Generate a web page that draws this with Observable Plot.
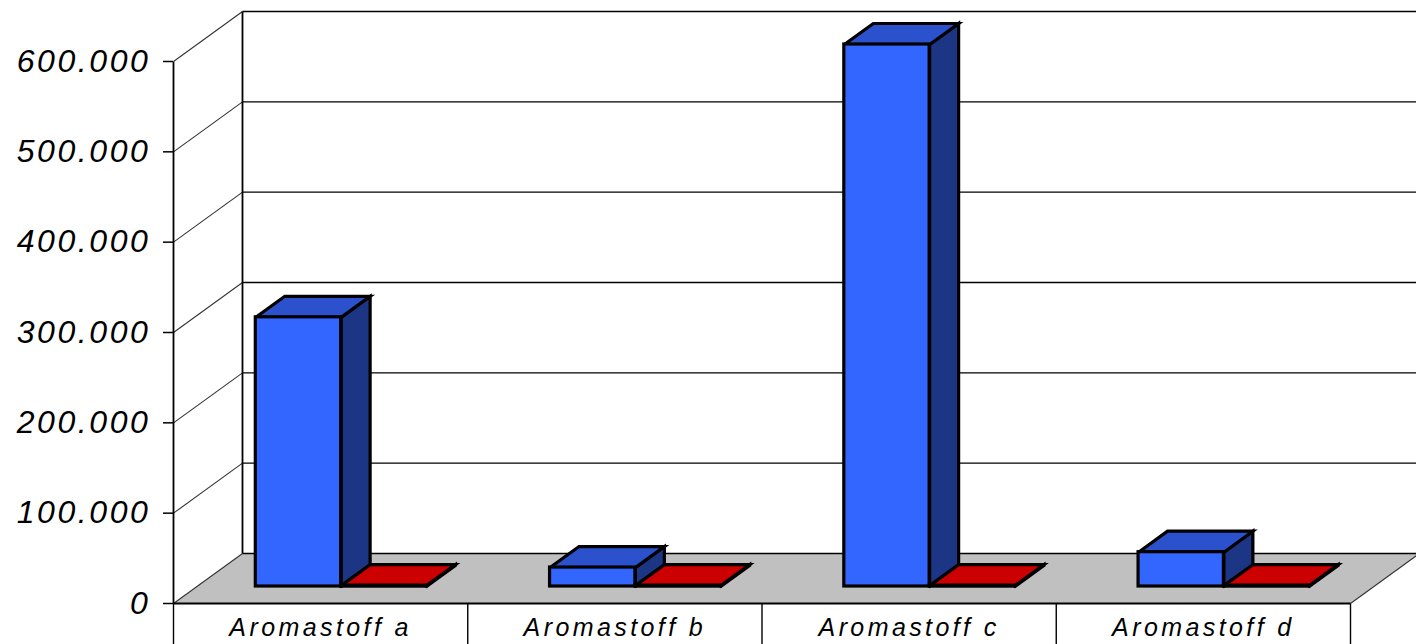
<!DOCTYPE html>
<html>
<head>
<meta charset="utf-8">
<script src="https://cdn.jsdelivr.net/npm/d3@7"></script>
<script src="https://cdn.jsdelivr.net/npm/@observablehq/plot@0.6"></script>
<style>
  html, body { margin: 0; padding: 0; background: #ffffff; }
  #chart svg { display: block; overflow: visible; }
  #chart g[aria-label="y-axis tick label"] text { letter-spacing: 2.6px; }
  #chart g[aria-label="x-axis tick label"] text { letter-spacing: 3.4px; }
</style>
</head>
<body>
<div id="chart"></div>
<script>
// ---- data ----
const categories = ["Aromastoff a", "Aromastoff b", "Aromastoff c", "Aromastoff d"];
const seriesBlue = [298000, 21000, 600000, 38000];
const seriesRed = [1000, 1000, 1000, 1000];
const yTicks = [0, 100000, 200000, 300000, 400000, 500000, 600000];

// ---- layout / style ----
const W = 1416, H = 644;
const mL = 173, mR = 66, mT = 61, mB = 41;
const yMax = 600000;
const pxPerX = (W - mL - mR) / categories.length;
const pxPerY = (H - mT - mB) / yMax;
const DEPTH_X = 69 / pxPerX;   // oblique projection of the full depth (data units)
const DEPTH_Y = 50 / pxPerY;
const BELOW = -41 / pxPerY;     // category dividers run to the bottom edge
const FRONT = 0.34, BACK = 0.76; // bar depth span
const GROUP_START = 0.2, BAR_W = 0.29;

const P = (x, y, d) => ({x: x + d * DEPTH_X, y: y + d * DEPTH_Y});

const palettes = [
  {front: "#3366ff", top: "#2b52cc", side: "#1c3585"},
  {front: "#e00000", top: "#cc0000", side: "#7a0000"}
];

const fmt = d => d3.format(",")(d).replace(/,/g, ".");

function barMarks(values, s) {
  const pal = palettes[s];
  const fronts = [], tops = [], sides = [];
  values.forEach((v, i) => {
    const xl = i + GROUP_START + s * BAR_W, xr = xl + BAR_W;
    const a = P(xl, 0, FRONT), b = P(xr, v, FRONT);
    fronts.push({x1: a.x, x2: b.x, y1: a.y, y2: b.y});
    [P(xl, v, FRONT), P(xr, v, FRONT), P(xr, v, BACK), P(xl, v, BACK), P(xl, v, FRONT)]
      .forEach(p => tops.push({id: i, ...p}));
    [P(xr, 0, FRONT), P(xr, v, FRONT), P(xr, v, BACK), P(xr, 0, BACK), P(xr, 0, FRONT)]
      .forEach(p => sides.push({id: i, ...p}));
  });
  const st = {stroke: "#000", strokeWidth: 3.2, strokeLinejoin: "miter", strokeMiterlimit: 4};
  return [
    Plot.line(sides, {x: "x", y: "y", z: "id", fill: pal.side, ...st}),
    Plot.line(tops, {x: "x", y: "y", z: "id", fill: pal.top, ...st}),
    Plot.rect(fronts, {x1: "x1", x2: "x2", y1: "y1", y2: "y2", fill: pal.front, ...st})
  ];
}

const floor = [P(0, 0, 0), P(categories.length, 0, 0), P(categories.length, 0, 1), P(0, 0, 1), P(0, 0, 0)];
const backGrid = yTicks.map(t => ({a: P(0, t, 1), b: P(categories.length, t, 1)}));
const sideGrid = yTicks.map(t => ({a: P(0, t, 0), b: P(0, t, 1)}));
const edges = [
  {a: P(categories.length, 0, 0), b: P(categories.length, 0, 1)}
];
const frames = [
  {a: P(0, 0, 1), b: P(0, yMax, 1)},
  {a: P(0, 0, 0), b: P(0, yMax, 0)},
  {a: P(0, 0, 0), b: P(categories.length, 0, 0)}
];
const dividers = d3.range(categories.length + 1).map(k => ({a: P(k, 0, 0), b: P(k, BELOW, 0)}));
const link = (data, o) => Plot.link(data, {x1: d => d.a.x, y1: d => d.a.y, x2: d => d.b.x, y2: d => d.b.y, ...o});

const chart = Plot.plot({
  width: W, height: H,
  marginLeft: mL, marginRight: mR, marginTop: mT, marginBottom: mB,
  style: {fontFamily: "'Liberation Sans', Arial, sans-serif", fontStyle: "italic", color: "#000", background: "#fff", overflow: "visible"},
  x: {type: "linear", domain: [0, categories.length]},
  y: {type: "linear", domain: [0, yMax]},
  marks: [
    Plot.line(floor, {x: "x", y: "y", fill: "#c0c0c0", stroke: "none"}),
    link(backGrid, {stroke: "#000", strokeWidth: 1.4}),
    link(sideGrid, {stroke: "#333", strokeWidth: 1.1}),
    link(edges, {stroke: "#333", strokeWidth: 1.1}),
    link(frames, {stroke: "#000", strokeWidth: 1.8}),
    link(dividers, {stroke: "#000", strokeWidth: 1.4}),
    ...barMarks(seriesBlue, 0),
    ...barMarks(seriesRed, 1),
    Plot.axisY(yTicks, {tickFormat: fmt, tickSize: 10, tickPadding: 13, fontSize: 32, label: null, strokeWidth: 1.5}),
    Plot.axisX(categories.map((c, i) => i + 0.5), {tickFormat: d => categories[Math.floor(d)], tickSize: 0, tickPadding: 15, fontSize: 25, label: null})
  ]
});
document.getElementById("chart").appendChild(chart);
</script>
</body>
</html>
